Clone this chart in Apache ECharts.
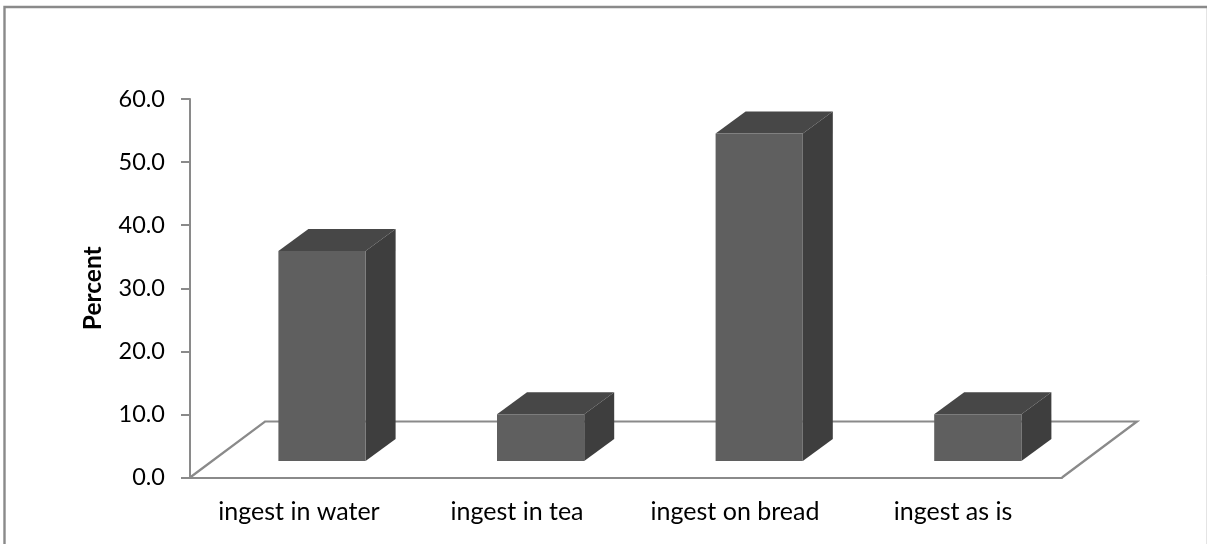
<!DOCTYPE html>
<html>
<head>
<meta charset="utf-8">
<title>Percent by way of ingesting</title>
<script src="https://cdn.jsdelivr.net/npm/echarts@6/dist/echarts.min.js"></script>
<style>
    html, body { margin: 0; padding: 0; background: #fff; }
    #chart { width: 1207px; height: 544px; }
</style>
</head>
<body>
<div id="chart"></div>
<script>
var categories = ['ingest in water', 'ingest in tea', 'ingest on bread', 'ingest as is'];
var percents = [33.3, 7.4, 51.9, 7.4];
var floorRow = [0];

var fontName = 'Lato';
var lineColor = '#8a8a8a';

// fake 3d: how far the bars and the floor are pushed back, in px
var barShift = [23, -16.5];
var barStretch = 0.6;
var barDepth = [30, -22];
var floorDepth = [75, -56];

var myChart = echarts.init(document.getElementById('chart'));

function renderBar(params, api) {
    var base = api.coord([api.value(0), 0]);
    var top = api.coord([api.value(0), api.value(1)]);
    var width = api.size([1, 0])[0] * 0.4;
    var x0 = base[0] + barShift[0] + barStretch * api.value(0) - width / 2;
    var x1 = x0 + width;
    var y0 = base[1] + barShift[1];
    var y1 = top[1] + barShift[1];
    var dx = barDepth[0];
    var dy = barDepth[1];
    return {
        type: 'group',
        children: [{
            type: 'polygon',
            shape: { points: [[x0, y1], [x1, y1], [x1 + dx, y1 + dy], [x0 + dx, y1 + dy]] },
            style: { fill: '#474747' }
        }, {
            type: 'polygon',
            shape: { points: [[x1, y0], [x1, y1], [x1 + dx, y1 + dy], [x1 + dx, y0 + dy]] },
            style: { fill: '#3e3e3e' }
        }, {
            type: 'rect',
            shape: { x: x0, y: y1, width: width, height: y0 - y1 },
            style: { fill: '#5f5f5f' }
        }]
    };
}

function renderFloor(params, api) {
    var step = api.size([1, 0])[0];
    var left = api.coord([0, 0]);
    var right = api.coord([categories.length - 1, 0]);
    var x0 = left[0] - step / 2;
    var x1 = right[0] + step / 2;
    var y0 = left[1];
    return {
        type: 'polyline',
        shape: {
            points: [
                [x0, y0],
                [x0 + floorDepth[0], y0 + floorDepth[1]],
                [x1 + floorDepth[0], y0 + floorDepth[1]],
                [x1, y0]
            ]
        },
        style: { fill: null, stroke: lineColor, lineWidth: 2.2 }
    };
}

var option = {
    animation: false,
    backgroundColor: '#fff',
    textStyle: { fontFamily: fontName },
    graphic: [{
        type: 'line',
        silent: true,
        shape: { x1: 1206.5, y1: 7, x2: 1206.5, y2: 544 },
        style: { stroke: '#e4e4e4', lineWidth: 1 }
    }, {
        type: 'polyline',
        silent: true,
        shape: { points: [[4.5, 544], [4.5, 7], [1207, 7]] },
        style: { fill: null, stroke: lineColor, lineWidth: 2.4 }
    }],
    grid: {
        left: 190,
        right: 145,
        top: 99,
        height: 378.5
    },
    xAxis: {
        type: 'category',
        data: categories,
        boundaryGap: true,
        axisLine: { lineStyle: { color: lineColor, width: 2 } },
        axisTick: { alignWithLabel: false, length: 9, lineStyle: { color: lineColor, width: 2 } },
        axisLabel: { color: '#000', fontSize: 25, fontFamily: fontName, margin: 22, interval: 0, hideOverlap: false }
    },
    yAxis: {
        type: 'value',
        min: 0,
        max: 60,
        interval: 10,
        name: 'Percent',
        nameLocation: 'middle',
        nameRotate: 90,
        nameGap: 84,
        nameTextStyle: { color: '#000', fontSize: 24.5, fontWeight: 'bold', fontFamily: fontName },
        splitLine: { show: false },
        axisLine: { show: true, lineStyle: { color: lineColor, width: 2 } },
        axisTick: { show: true, length: 9, lineStyle: { color: lineColor, width: 2 } },
        axisLabel: {
            color: '#000',
            fontSize: 23.5,
            fontFamily: fontName,
            margin: 25,
            formatter: function (v) { return v.toFixed(1); }
        }
    },
    series: [{
        type: 'custom',
        renderItem: renderFloor,
        data: floorRow,
        silent: true,
        z: 1
    }, {
        type: 'custom',
        renderItem: renderBar,
        encode: { x: 0, y: 1 },
        data: percents.map(function (v, i) { return [i, v]; }),
        z: 2
    }]
};

myChart.setOption(option);
</script>
</body>
</html>
